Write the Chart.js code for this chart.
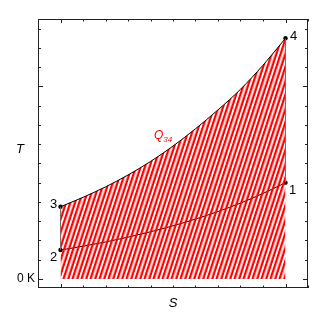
<!DOCTYPE html>
<html>
<head>
<meta charset="utf-8">
<script src="https://cdn.jsdelivr.net/npm/chart.js@4.4.1/dist/chart.umd.min.js"></script>
<style>
  html, body { margin: 0; padding: 0; background: #fff; }
  #wrap { width: 327px; height: 327px; }
</style>
</head>
<body>
<div id="wrap"><canvas id="myChart" width="327" height="327"></canvas></div>
<script>
// entropy positions (S) read along the x axis, 0 = state 2/3, 1 = state 1/4
const sValues = [0, 0.1, 0.2, 0.3, 0.4, 0.5, 0.6, 0.7, 0.8, 0.9, 1];
// lower isobar 2 -> 1
const tLow = [1.5, 1.7, 1.92, 2.17, 2.45, 2.76, 3.11, 3.5, 3.94, 4.44, 5.0];
// upper isobar 3 -> 4
const tHigh = [3.75, 4.24, 4.78, 5.4, 6.1, 6.9, 7.8, 8.78, 9.85, 11.1, 12.5];
// state points
const stateLabels = ["1", "2", "3", "4"];
const stateS = [1, 0, 0, 1];
const stateT = [5.0, 1.5, 3.75, 12.5];
// ticks
const xTicks = [-0.1, 0, 0.1, 0.2, 0.3, 0.4, 0.5, 0.6, 0.7, 0.8, 0.9, 1, 1.1];
const xMajor = [0, 1];
const yTicks = [0, 1, 2, 3, 4, 5, 6, 7, 8, 9, 10, 11, 12, 13];
const yMajor = [0, 10];

function pts(xs, ys) {
  return xs.map(function (x, i) { return { x: x, y: ys[i] }; });
}

// red hatch pattern
function makeHatch() {
  const c = document.createElement("canvas");
  c.width = 9; c.height = 1;
  const g = c.getContext("2d");
  g.fillStyle = "#ff0000";
  g.fillRect(0, 0, 2.4, 1);
  g.fillRect(4.6, 0, 2.4, 1);
  const p = g.createPattern(c, "repeat");
  p.setTransform(new DOMMatrix().skewX(-18));
  return p;
}

const frame = {
  id: "frame",
  afterDraw: function (chart) {
    const ctx = chart.ctx;
    const a = chart.chartArea;
    const xs = chart.scales.x, ys = chart.scales.y;
    ctx.save();
    ctx.strokeStyle = "#222";
    ctx.lineWidth = 1;
    ctx.strokeRect(a.left + 0.5, a.top + 0.5, a.right - a.left - 1, a.bottom - a.top - 1);
    ctx.beginPath();
    xTicks.forEach(function (v) {
      const px = Math.round(xs.getPixelForValue(v)) + 0.5;
      const len = xMajor.indexOf(v) >= 0 ? 4 : 2.5;
      ctx.moveTo(px, a.bottom); ctx.lineTo(px, a.bottom - len);
      ctx.moveTo(px, a.top); ctx.lineTo(px, a.top + len);
    });
    yTicks.forEach(function (v) {
      const py = Math.round(ys.getPixelForValue(v)) + 0.5;
      const len = yMajor.indexOf(v) >= 0 ? 5 : 3;
      ctx.moveTo(a.left, py); ctx.lineTo(a.left + len, py);
      ctx.moveTo(a.right, py); ctx.lineTo(a.right - len, py);
    });
    ctx.stroke();

    ctx.fillStyle = "#000";
    ctx.textBaseline = "middle";
    ctx.font = "12px 'Liberation Sans', Arial, sans-serif";
    ctx.textAlign = "right";
    ctx.fillText("0 K", a.left - 3, ys.getPixelForValue(0));

    ctx.textAlign = "center";
    ctx.font = "italic 13px 'Liberation Sans', Arial, sans-serif";
    ctx.fillText("T", 20, (a.top + a.bottom) / 2 - 4);
    ctx.fillText("S", (a.left + a.right) / 2, a.bottom + 15);

    // state numbers
    ctx.font = "13px 'Liberation Sans', Arial, sans-serif";
    const off = { "1": [7, 8], "2": [-7, 7], "3": [-7, -2], "4": [8, -2] };
    stateLabels.forEach(function (l, i) {
      const px = xs.getPixelForValue(stateS[i]);
      const py = ys.getPixelForValue(stateT[i]);
      ctx.fillText(l, px + off[l][0], py + off[l][1]);
    });

    // Q34 label
    ctx.fillStyle = "#ff0000";
    ctx.textAlign = "left";
    const qx = xs.getPixelForValue(0.415), qy = ys.getPixelForValue(7.45);
    ctx.font = "italic 12px 'Liberation Sans', Arial, sans-serif";
    ctx.fillText("Q", qx, qy);
    const w = ctx.measureText("Q").width;
    ctx.font = "italic 8px 'Liberation Sans', Arial, sans-serif";
    ctx.fillText("34", qx + w, qy + 4);
    ctx.restore();
  }
};

document.addEventListener("DOMContentLoaded", function () {
  const ctx = document.getElementById("myChart");
  new Chart(ctx, {
    type: "scatter",
    data: {
      datasets: [
        {
          label: "Q34",
          data: pts(sValues, tHigh),
          showLine: true,
          fill: "origin",
          backgroundColor: makeHatch(),
          borderColor: "#000",
          borderWidth: 1,
          pointRadius: 0,
          cubicInterpolationMode: "monotone",
        },
        {
          label: "2-1",
          data: pts(sValues, tLow),
          showLine: true,
          borderColor: "#000",
          borderWidth: 1,
          pointRadius: 0,
          cubicInterpolationMode: "monotone",
        },
        {
          label: "2-3",
          data: [{ x: stateS[1], y: stateT[1] }, { x: stateS[2], y: stateT[2] }],
          showLine: true,
          borderColor: "#777",
          borderWidth: 1,
          pointRadius: 0,
        },
        {
          label: "1-4",
          data: [{ x: stateS[0], y: stateT[0] }, { x: stateS[3], y: stateT[3] }],
          showLine: true,
          borderColor: "#777",
          borderWidth: 1,
          pointRadius: 0,
        },
        {
          label: "states",
          data: pts(stateS, stateT),
          showLine: false,
          pointRadius: 2.2,
          pointBackgroundColor: "#000",
          pointBorderWidth: 0,
        },
      ],
    },
    plugins: [frame],
    options: {
      responsive: false,
      animation: false,
      events: [],
      layout: { padding: { left: 38, top: 19, right: 19, bottom: 39 } },
      plugins: {
        legend: { display: false },
        tooltip: { enabled: false },
      },
      scales: {
        x: { type: "linear", min: -0.1, max: 1.1, display: false },
        y: { type: "linear", min: -0.47, max: 13.5, display: false },
      },
    },
  });
});
</script>
</body>
</html>
